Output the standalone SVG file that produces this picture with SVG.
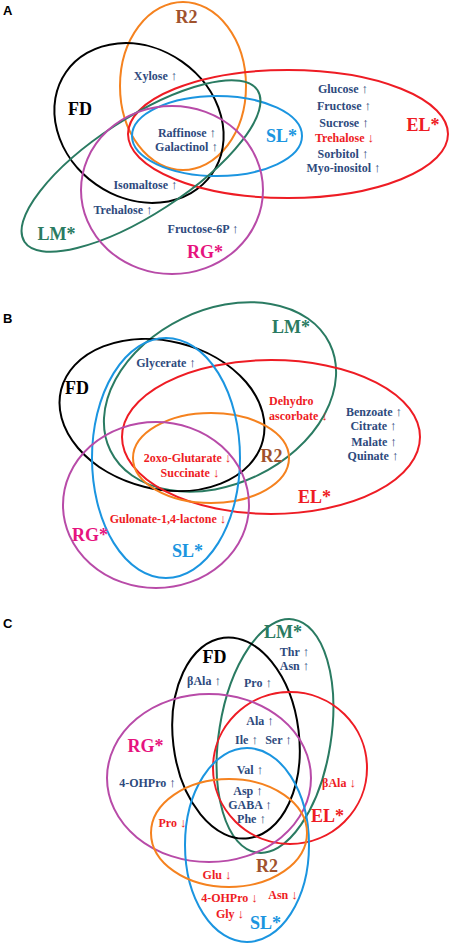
<svg xmlns="http://www.w3.org/2000/svg" width="454" height="944" viewBox="0 0 454 944">
<style>
.e{fill:none;stroke-width:2}
.fd{stroke:#000}
.r2{stroke:#F5821F}
.el{stroke:#EE1C24}
.sl{stroke:#1B95E0}
.lm{stroke:#2A7B62}
.rg{stroke:#B84BA8}
.lab{font-family:"Liberation Serif","Times New Roman",serif;font-weight:bold;font-size:18px;text-anchor:middle}
.m{font-family:"Liberation Serif","Times New Roman",serif;font-weight:bold;font-size:12px;text-anchor:middle;fill:#2E4A7D}
.m tspan{font-weight:normal;font-size:13px}
.d{fill:#EE1C24}
.s{text-anchor:start}
.pl{font-family:"Liberation Sans",Arial,sans-serif;font-weight:bold;font-size:13px;fill:#000}
.tfd{fill:#000}.tr2{fill:#A0522D}.tel{fill:#EE1C24}.tsl{fill:#1B95E0}.tlm{fill:#2A7B62}.trg{fill:#E6137E}
</style>
<rect width="454" height="944" fill="#fff"/>

<!-- Panel A -->
<g id="panelA">
<text class="pl" x="3" y="15">A</text>
<g id="A-R2"><ellipse class="e r2" cx="183" cy="86" rx="63" ry="84"/><text class="lab tr2" x="186.5" y="23">R2</text></g>
<g id="A-FD"><ellipse class="e fd" cx="139" cy="123" rx="89" ry="75" transform="rotate(35 139 123)"/><text class="lab tfd" x="80" y="115">FD</text></g>
<g id="A-EL"><ellipse class="e el" cx="288" cy="134" rx="160" ry="64"/><text class="lab tel" x="423" y="131">EL*</text></g>
<g id="A-SL"><ellipse class="e sl" cx="217" cy="136" rx="85" ry="40"/><text class="lab tsl" x="281.5" y="142">SL*</text></g>
<g id="A-LM"><ellipse class="e lm" cx="141" cy="166" rx="139" ry="48" transform="rotate(-33 141 166)"/><text class="lab tlm" x="56.5" y="240">LM*</text></g>
<g id="A-RG"><ellipse class="e rg" cx="172" cy="190" rx="91" ry="84"/><text class="lab trg" x="205" y="258">RG*</text></g>
<g id="A-metabolites">
<text class="m" x="155.5" y="80">Xylose <tspan>↑</tspan></text>
<text class="m" x="343" y="93">Glucose <tspan>↑</tspan></text>
<text class="m" x="344" y="110">Fructose <tspan>↑</tspan></text>
<text class="m" x="344" y="127">Sucrose <tspan>↑</tspan></text>
<text class="m d" x="344.5" y="142">Trehalose <tspan>↓</tspan></text>
<text class="m" x="343" y="158">Sorbitol <tspan>↑</tspan></text>
<text class="m" x="343.5" y="172">Myo-inositol <tspan>↑</tspan></text>
<text class="m" x="187" y="137">Raffinose <tspan>↑</tspan></text>
<text class="m" x="186.5" y="151">Galactinol <tspan>↑</tspan></text>
<text class="m" x="145.5" y="189">Isomaltose <tspan>↑</tspan></text>
<text class="m" x="123" y="214">Trehalose <tspan>↑</tspan></text>
<text class="m" x="203" y="233">Fructose-6P <tspan>↑</tspan></text>
</g>
</g>

<!-- Panel B -->
<g id="panelB">
<text class="pl" x="3" y="323">B</text>
<g id="B-LM"><ellipse class="e lm" cx="220" cy="397" rx="122" ry="87" transform="rotate(-26 220 397)"/><text class="lab tlm" x="291" y="333">LM*</text></g>
<g id="B-FD"><ellipse class="e fd" cx="162" cy="415" rx="104" ry="74" transform="rotate(14 162 415)"/><text class="lab tfd" x="77" y="394">FD</text></g>
<g id="B-EL"><ellipse class="e el" cx="271" cy="437" rx="149" ry="77"/><text class="lab tel" x="314.5" y="503">EL*</text></g>
<g id="B-R2"><ellipse class="e r2" cx="211" cy="458" rx="78" ry="45"/><text class="lab tr2" x="271.5" y="462">R2</text></g>
<g id="B-SL"><ellipse class="e sl" cx="166" cy="458" rx="74" ry="120"/><text class="lab tsl" x="187.5" y="557">SL*</text></g>
<g id="B-RG"><ellipse class="e rg" cx="156" cy="505" rx="93" ry="83"/><text class="lab trg" x="90" y="541">RG*</text></g>
<g id="B-metabolites">
<text class="m d s" x="269" y="405">Dehydro</text>
<text class="m d s" x="269" y="420">ascorbate <tspan>↓</tspan></text>
<text class="m" x="166" y="367">Glycerate <tspan>↑</tspan></text>
<text class="m" x="374" y="416">Benzoate <tspan>↑</tspan></text>
<text class="m" x="373.5" y="430">Citrate <tspan>↑</tspan></text>
<text class="m" x="374" y="446">Malate <tspan>↑</tspan></text>
<text class="m" x="373" y="460">Quinate <tspan>↑</tspan></text>
<text class="m d" x="187.5" y="462">2oxo-Glutarate <tspan>↓</tspan></text>
<text class="m d" x="190" y="477">Succinate <tspan>↓</tspan></text>
<text class="m d" x="168" y="523">Gulonate-1,4-lactone <tspan>↓</tspan></text>
</g>
</g>

<!-- Panel C -->
<g id="panelC">
<text class="pl" x="3" y="628">C</text>
<g id="C-LM"><ellipse class="e lm" cx="275" cy="736" rx="56" ry="118" transform="rotate(9 275 736)"/><text class="lab tlm" x="283" y="638">LM*</text></g>
<g id="C-FD"><ellipse class="e fd" cx="236" cy="738" rx="63" ry="101" transform="rotate(-7 236 738)"/><text class="lab tfd" x="214.5" y="663">FD</text></g>
<g id="C-EL"><ellipse class="e el" cx="290" cy="768" rx="77" ry="76"/><text class="lab tel" x="327.5" y="822">EL*</text></g>
<g id="C-RG"><ellipse class="e rg" cx="209" cy="778" rx="102" ry="84"/><text class="lab trg" x="145.5" y="752">RG*</text></g>
<g id="C-SL"><ellipse class="e sl" cx="247" cy="845" rx="62" ry="97"/><text class="lab tsl" x="265.5" y="929">SL*</text></g>
<g id="C-R2"><ellipse class="e r2" cx="229" cy="833" rx="78" ry="54"/><text class="lab tr2" x="267" y="872">R2</text></g>
<g id="C-metabolites">
<text class="m" x="294.5" y="656">Thr <tspan>↑</tspan></text>
<text class="m" x="294.5" y="670">Asn <tspan>↑</tspan></text>
<text class="m" x="204" y="685">βAla <tspan>↑</tspan></text>
<text class="m" x="258" y="687">Pro <tspan>↑</tspan></text>
<text class="m" x="260" y="725">Ala <tspan>↑</tspan></text>
<text class="m" x="246.5" y="744">Ile <tspan>↑</tspan></text>
<text class="m" x="278.5" y="744">Ser <tspan>↑</tspan></text>
<text class="m" x="250" y="774">Val <tspan>↑</tspan></text>
<text class="m" x="147.5" y="787">4-OHPro <tspan>↑</tspan></text>
<text class="m d" x="339" y="787">βAla <tspan>↓</tspan></text>
<text class="m" x="248" y="795">Asp <tspan>↑</tspan></text>
<text class="m" x="250" y="809">GABA <tspan>↑</tspan></text>
<text class="m" x="251.5" y="823">Phe <tspan>↑</tspan></text>
<text class="m d" x="172.5" y="827">Pro <tspan>↓</tspan></text>
<text class="m d" x="217" y="879">Glu <tspan>↓</tspan></text>
<text class="m d" x="229.5" y="902">4-OHPro <tspan>↓</tspan></text>
<text class="m d" x="283" y="899">Asn <tspan>↓</tspan></text>
<text class="m d" x="230" y="918">Gly <tspan>↓</tspan></text>
</g>
</g>
</svg>
